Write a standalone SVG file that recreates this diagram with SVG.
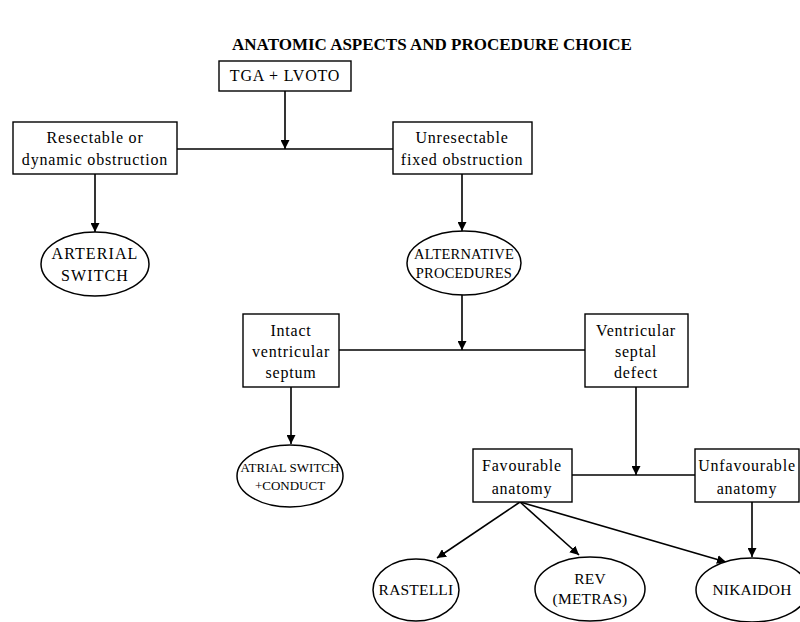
<svg xmlns="http://www.w3.org/2000/svg" width="800" height="622" viewBox="0 0 800 622">
<defs>
<style>
.box{fill:#fff;stroke:#000;stroke-width:1.4}
.ell{fill:#fff;stroke:#000;stroke-width:1.5}
.t{font-family:"Liberation Serif","Times New Roman",serif;font-size:16px;letter-spacing:0.8px;fill:#000;text-anchor:middle}
.tb{font-family:"Liberation Serif","Times New Roman",serif;font-size:16px;letter-spacing:1.1px;fill:#000;text-anchor:middle}
.te{font-family:"Liberation Serif","Times New Roman",serif;font-size:15.5px;letter-spacing:0.2px;fill:#000;text-anchor:middle}
.ts{font-family:"Liberation Serif","Times New Roman",serif;font-size:14.5px;letter-spacing:0.2px;fill:#000;text-anchor:middle}
.ta{font-family:"Liberation Serif","Times New Roman",serif;font-size:13px;letter-spacing:0px;fill:#000;text-anchor:middle}
.title{font-family:"Liberation Serif","Times New Roman",serif;font-size:17px;font-weight:bold;fill:#000;text-anchor:middle}
.c{fill:none;stroke:#000;stroke-width:1.5}
.a{fill:none;stroke:#000;stroke-width:1.6;marker-end:url(#ah)}
</style>
<marker id="ah" viewBox="0 0 10 10" refX="10" refY="5" markerWidth="9" markerHeight="9" markerUnits="userSpaceOnUse" orient="auto">
<path d="M0,0 L10,5 L0,10 Z" fill="#000"/>
</marker>
</defs>
<rect width="800" height="622" fill="#fff"/>
<text class="title" x="432" y="50">ANATOMIC ASPECTS AND PROCEDURE CHOICE</text>
<g id="connectors">
<line class="a" x1="285" y1="91" x2="285" y2="149"/>
<line class="c" x1="177" y1="149" x2="393" y2="149"/>
<line class="a" x1="95" y1="174" x2="95" y2="232"/>
<line class="a" x1="462" y1="174" x2="462" y2="231"/>
<line class="a" x1="462" y1="295" x2="462" y2="350"/>
<line class="c" x1="339" y1="350" x2="585" y2="350"/>
<line class="a" x1="291" y1="387" x2="291" y2="444"/>
<line class="a" x1="636" y1="387" x2="636" y2="475"/>
<line class="c" x1="572" y1="475" x2="695" y2="475"/>
<line class="a" x1="520" y1="502" x2="437" y2="558"/>
<line class="a" x1="520" y1="502" x2="579" y2="555"/>
<line class="a" x1="520" y1="502" x2="726" y2="562"/>
<line class="a" x1="752" y1="502" x2="752" y2="557"/>
</g>
<g id="n-tga"><rect class="box" x="219" y="61" width="132" height="30"/><text class="t" x="285" y="81">TGA + LVOTO</text></g>
<g id="n-resectable"><rect class="box" x="13" y="122" width="164" height="52"/><text class="t" x="95" y="143">Resectable or</text><text class="t" x="95" y="165">dynamic obstruction</text></g>
<g id="n-unresectable"><rect class="box" x="393" y="122" width="139" height="52"/><text class="t" x="462" y="143">Unresectable</text><text class="t" x="462" y="165">fixed obstruction</text></g>
<g id="n-arterial"><ellipse class="ell" cx="95" cy="264" rx="54" ry="32"/><text class="tb" x="95" y="259">ARTERIAL</text><text class="tb" x="95" y="281">SWITCH</text></g>
<g id="n-alternative"><ellipse class="ell" cx="464" cy="263" rx="57" ry="32"/><text class="ts" x="464" y="259">ALTERNATIVE</text><text class="ts" x="464" y="278">PROCEDURES</text></g>
<g id="n-intact"><rect class="box" x="243" y="314" width="96" height="73"/><text class="t" x="291" y="336">Intact</text><text class="t" x="291" y="357">ventricular</text><text class="t" x="291" y="378">septum</text></g>
<g id="n-vsd"><rect class="box" x="585" y="314" width="103" height="73"/><text class="t" x="636" y="336">Ventricular</text><text class="t" x="636" y="357">septal</text><text class="t" x="636" y="378">defect</text></g>
<g id="n-atrial"><ellipse class="ell" cx="290" cy="476" rx="53" ry="31"/><text class="ta" x="290" y="472">ATRIAL SWITCH</text><text class="ta" x="290" y="490">+CONDUCT</text></g>
<g id="n-favourable"><rect class="box" x="473" y="449" width="99" height="53"/><text class="t" x="522" y="471">Favourable</text><text class="t" x="522" y="494">anatomy</text></g>
<g id="n-unfavourable"><rect class="box" x="695" y="449" width="104" height="53"/><text class="t" x="747" y="471">Unfavourable</text><text class="t" x="747" y="494">anatomy</text></g>
<g id="n-rastelli"><ellipse class="ell" cx="416" cy="590" rx="43" ry="31"/><text class="te" x="416" y="595">RASTELLI</text></g>
<g id="n-rev"><ellipse class="ell" cx="590" cy="589" rx="55" ry="32"/><text class="te" x="590" y="584">REV</text><text class="te" x="590" y="604">(METRAS)</text></g>
<g id="n-nikaidoh"><ellipse class="ell" cx="752" cy="590" rx="56" ry="32"/><text class="te" x="752" y="595">NIKAIDOH</text></g>
</svg>
